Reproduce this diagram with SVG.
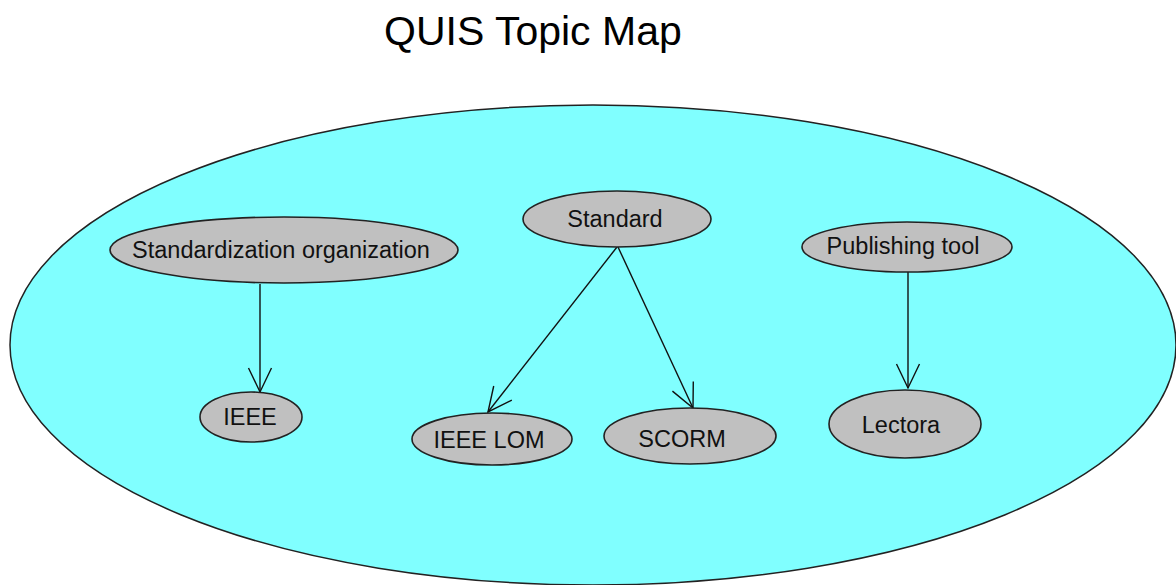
<svg xmlns="http://www.w3.org/2000/svg" width="1176" height="585" viewBox="0 0 1176 585">
<style>
.bg{fill:#80ffff;stroke:#222;stroke-width:1.5}
.node{fill:#c0c0c0;stroke:#222;stroke-width:1.6}
.lbl{font-family:"Liberation Sans",Arial,sans-serif;font-size:23.5px;fill:#111;text-anchor:middle}
.title{font-family:"Liberation Sans",Arial,sans-serif;font-size:41px;fill:#000}
.edge{stroke:#111;stroke-width:1.4;fill:none;marker-end:url(#arr)}
</style>
<defs>
<marker id="arr" markerUnits="userSpaceOnUse" markerWidth="28" markerHeight="26" refX="26" refY="13" orient="auto" viewBox="0 0 28 26">
<path d="M2,1.5 L26,13 L2,24.5" fill="none" stroke="#111" stroke-width="1.4"/>
</marker>
</defs>
<rect width="1176" height="585" fill="#ffffff"/>
<text class="title" x="384" y="45">QUIS Topic Map</text>
<g id="scope">
<ellipse class="bg" cx="593" cy="345" rx="583" ry="240"/>
</g>
<g id="connectors">
<line class="edge" x1="260" y1="284" x2="260" y2="392"/>
<line class="edge" x1="617" y1="247" x2="488" y2="412"/>
<line class="edge" x1="618" y1="247" x2="693" y2="408"/>
<line class="edge" x1="908" y1="272" x2="908" y2="388"/>
</g>
<g id="n-standardization-organization">
<ellipse class="node" cx="284" cy="250" rx="174" ry="33"/>
<text class="lbl" x="281" y="258">Standardization organization</text>
</g>
<g id="n-standard">
<ellipse class="node" cx="617" cy="219" rx="94" ry="28"/>
<text class="lbl" x="615" y="227">Standard</text>
</g>
<g id="n-publishing-tool">
<ellipse class="node" cx="907" cy="247" rx="105" ry="25"/>
<text class="lbl" x="903" y="254">Publishing tool</text>
</g>
<g id="n-ieee">
<ellipse class="node" cx="251" cy="417" rx="51" ry="25"/>
<text class="lbl" x="250" y="425">IEEE</text>
</g>
<g id="n-ieee-lom">
<ellipse class="node" cx="492" cy="439" rx="80" ry="26"/>
<text class="lbl" x="489" y="448">IEEE LOM</text>
</g>
<g id="n-scorm">
<ellipse class="node" cx="690" cy="436" rx="86" ry="28"/>
<text class="lbl" x="682" y="447">SCORM</text>
</g>
<g id="n-lectora">
<ellipse class="node" cx="905" cy="424" rx="76" ry="34"/>
<text class="lbl" x="901" y="433">Lectora</text>
</g>
</svg>
